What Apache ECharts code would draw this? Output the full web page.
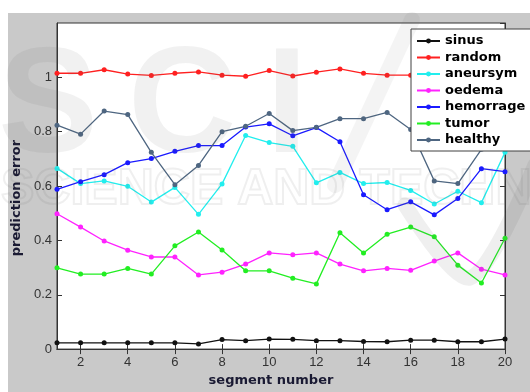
<!DOCTYPE html>
<html>
<head>
<meta charset="utf-8">
<script src="https://cdn.jsdelivr.net/npm/echarts@6/dist/echarts.min.js"></script>
<style>
  html, body { margin: 0; padding: 0; background: #ffffff; }
  #chart { width: 530px; height: 392px; }
</style>
</head>
<body>
<div id="chart"></div>
<script>
// Segment numbers along the x axis
const segments = ['1','2','3','4','5','6','7','8','9','10','11','12','13','14','15','16','17','18','19','20'];

// Prediction error per segment for each class
const sinus      = [0.023, 0.023, 0.023, 0.023, 0.023, 0.023, 0.019, 0.035, 0.031, 0.037, 0.036, 0.031, 0.031, 0.028, 0.027, 0.033, 0.033, 0.027, 0.027, 0.037];
const random     = [1.015, 1.015, 1.028, 1.012, 1.007, 1.015, 1.020, 1.008, 1.004, 1.025, 1.005, 1.019, 1.031, 1.015, 1.008, 1.008, 1.010, 1.005, 1.012, 1.008];
const aneursym   = [0.665, 0.609, 0.619, 0.599, 0.541, 0.595, 0.496, 0.608, 0.786, 0.760, 0.746, 0.612, 0.650, 0.609, 0.613, 0.584, 0.534, 0.581, 0.539, 0.724];
const oedema     = [0.498, 0.449, 0.398, 0.364, 0.339, 0.339, 0.273, 0.283, 0.313, 0.354, 0.347, 0.354, 0.313, 0.288, 0.297, 0.290, 0.324, 0.354, 0.294, 0.273];
const hemorrage  = [0.588, 0.616, 0.642, 0.686, 0.701, 0.728, 0.749, 0.749, 0.817, 0.829, 0.785, 0.815, 0.763, 0.568, 0.513, 0.542, 0.494, 0.554, 0.664, 0.653];
const tumor      = [0.299, 0.276, 0.276, 0.297, 0.276, 0.380, 0.431, 0.365, 0.288, 0.288, 0.261, 0.240, 0.428, 0.354, 0.423, 0.449, 0.413, 0.309, 0.243, 0.408];
const healthy    = [0.824, 0.791, 0.876, 0.863, 0.724, 0.605, 0.676, 0.800, 0.820, 0.867, 0.804, 0.816, 0.848, 0.848, 0.871, 0.808, 0.619, 0.609, 0.735, 0.800];

// Y axis range and tick step
const yMin = 0, yMax = 1.2, yStep = 0.2;

const seriesDefs = [
  { name: 'sinus',     data: sinus,     color: '#111111' },
  { name: 'random',    data: random,    color: '#ff2020' },
  { name: 'aneursym',  data: aneursym,  color: '#22eeee' },
  { name: 'oedema',    data: oedema,    color: '#ff22ff' },
  { name: 'hemorrage', data: hemorrage, color: '#1a1aff' },
  { name: 'tumor',     data: tumor,     color: '#22ee22' },
  { name: 'healthy',   data: healthy,   color: '#4e6681' }
];

const evenOnly = (idx) => idx % 2 === 1;
const axisColor = '#333333';
const tickFont = { fontFamily: 'Liberation Sans, Arial, sans-serif', fontSize: 13, color: '#333333' };
const wmFont = 'bold 150px "Liberation Sans", Arial, sans-serif';
const wmFill = 'rgba(100,100,100,0.09)';

const chart = echarts.init(document.getElementById('chart'), null, { renderer: 'canvas' });

chart.setOption({
  animation: false,
  backgroundColor: '#ffffff',
  grid: {
    left: 57, top: 23, right: 25, bottom: 34,
    show: true, backgroundColor: '#ffffff', borderColor: axisColor, borderWidth: 1
  },
  graphic: [
    // figure panel
    { type: 'rect', z: -100, silent: true, shape: { x: 8, y: 13, width: 530, height: 392 }, style: { fill: '#c9c9c9' } },
    // publisher watermark
    { type: 'text', z: 100, silent: true, left: -2, top: 36, style: { text: 'S', font: wmFont, fill: wmFill } },
    { type: 'text', z: 100, silent: true, left: 128, top: 36, style: { text: 'C', font: wmFont, fill: wmFill } },
    { type: 'text', z: 100, silent: true, left: 266, top: 36, style: { text: 'I', font: wmFont, fill: wmFill } },
    { type: 'text', z: 100, silent: true, left: 0, top: 164, style: { text: 'SCIENCE AND TECHNOLOGY', font: 'bold 50px "Liberation Sans", Arial, sans-serif', fill: 'rgba(255,255,255,0)', stroke: 'rgba(100,100,100,0.1)', lineWidth: 2 } },
    { type: 'polyline', z: 100, silent: true, shape: { points: [[335, 185], [412, 20]] }, style: { stroke: 'rgba(100,100,100,0.07)', lineWidth: 16, lineCap: 'round', fill: null } },
    { type: 'polyline', z: 100, silent: true, shape: { points: [[405, 205], [470, 278], [535, 165]], smooth: 0.3 }, style: { stroke: 'rgba(100,100,100,0.1)', lineWidth: 15, lineCap: 'round', lineJoin: 'round', fill: null } }
  ],
  legend: {
    orient: 'vertical',
    left: 411, top: 29,
    padding: [5, 6, 4, 5],
    itemWidth: 23, itemHeight: 6, itemGap: 2.5,
    backgroundColor: '#ffffff',
    borderColor: '#404040', borderWidth: 1,
    textStyle: { fontFamily: 'DejaVu Sans, sans-serif', fontSize: 13, fontWeight: 'bold', color: '#000000', lineHeight: 14 },
    data: seriesDefs.map(s => s.name)
  },
  xAxis: [
    {
      type: 'category', data: segments, boundaryGap: false, position: 'bottom',
      axisLine: { lineStyle: { color: axisColor } },
      axisTick: { inside: true, length: 5, interval: evenOnly, lineStyle: { color: axisColor } },
      axisLabel: Object.assign({ interval: evenOnly, margin: 7 }, tickFont),
      splitLine: { show: false },
      name: 'segment number', nameLocation: 'middle', nameGap: 19,
      nameTextStyle: { fontFamily: 'DejaVu Sans, sans-serif', fontSize: 13, fontWeight: 'bold', color: '#1a1a33', padding: [0, 20, 0, 0] }
    },
    {
      type: 'category', data: segments, boundaryGap: false, position: 'top',
      axisLine: { lineStyle: { color: axisColor } },
      axisTick: { inside: true, length: 5, interval: evenOnly, lineStyle: { color: axisColor } },
      axisLabel: { show: false }, splitLine: { show: false }
    }
  ],
  yAxis: [
    {
      type: 'value', min: yMin, max: yMax, interval: yStep, position: 'left',
      axisLine: { show: true, lineStyle: { color: axisColor } },
      axisTick: { show: true, inside: true, length: 5, lineStyle: { color: axisColor } },
      axisLabel: Object.assign({ margin: 5, showMaxLabel: false }, tickFont),
      splitLine: { show: false },
      name: 'prediction error', nameLocation: 'middle', nameGap: 29, nameRotate: 90,
      nameTextStyle: { fontFamily: 'DejaVu Sans, sans-serif', fontSize: 13, fontWeight: 'bold', color: '#1a1a33', padding: [0, 24, 0, 0] }
    },
    {
      type: 'value', min: yMin, max: yMax, interval: yStep, position: 'right',
      axisLine: { show: true, lineStyle: { color: axisColor } },
      axisTick: { show: true, inside: true, length: 5, lineStyle: { color: axisColor } },
      axisLabel: { show: false }, splitLine: { show: false }
    }
  ],
  series: seriesDefs.map(s => ({
    name: s.name,
    type: 'line',
    data: s.data,
    xAxisIndex: 0, yAxisIndex: 0,
    symbol: 'circle', symbolSize: 5,
    showSymbol: true,
    lineStyle: { color: s.color, width: 1.3 },
    itemStyle: { color: s.color },
    emphasis: { disabled: true }
  }))
});
</script>
</body>
</html>
